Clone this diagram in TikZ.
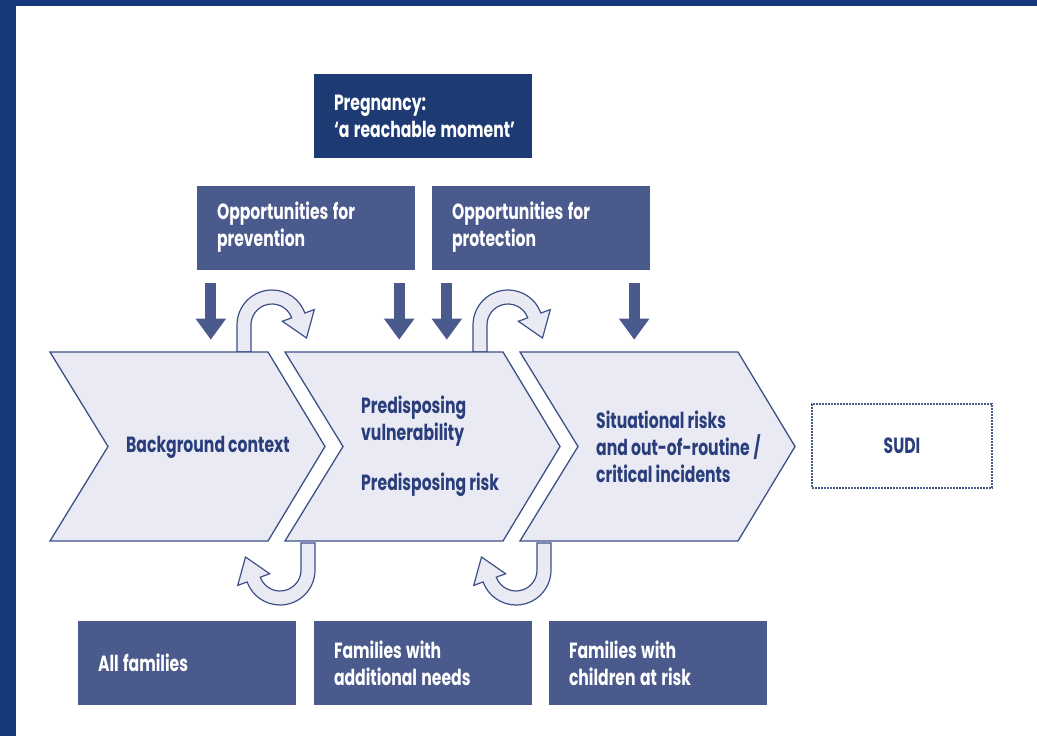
\documentclass[tikz,border=0pt]{standalone}
\usepackage{fontspec}
\setmainfont{Poppins}[FakeStretch=0.71, WordSpace=0.95]
\usetikzlibrary{arrows.meta,calc}

\definecolor{frameblue}{HTML}{143A7B}
\definecolor{navybox}{HTML}{1E3A73}
\definecolor{slatebox}{HTML}{4A5A8D}
\definecolor{chevfill}{HTML}{E9EAF4}
\definecolor{chevline}{HTML}{3D5187}
\definecolor{chevtext}{HTML}{2A3E7B}

\tikzset{
  looparrow/.pic={
    \path[looparr] (-35pt,-27pt) -- (-35pt,0pt) arc[start angle=180,end angle=20,radius=35pt]
      -- (20:45pt) -- (34.5pt,-13pt) -- (20:11pt) -- (20:21pt)
      arc[start angle=20,end angle=180,radius=21pt] -- (-21pt,-27pt) -- cycle;
  }
}

\begin{document}
\begin{tikzpicture}[x=1pt, y=-1pt,
    every node/.style={font=\fontsize{22}{27}\selectfont\bfseries},
    box/.style={fill=slatebox, text=white, align=left, text width=178pt, minimum width=218pt, minimum height=84pt, inner xsep=20pt, inner ysep=0pt,
      execute at begin node={\spaceskip=0.2em plus 0.05em\relax}},
    chevron/.style={fill=chevfill, draw=chevline, line width=1.3pt},
    chevlabel/.style={anchor=west, inner sep=0pt, text=chevtext, align=left},
    downarrow/.style={draw=slatebox, line width=11pt, -{Triangle[width=29pt,length=21pt]}},
    looparr/.style={fill=chevfill, draw=chevline, line width=1.2pt},
    sudibox/.style={draw=slatebox, line width=2pt, dash pattern=on 1.6pt off 1.4pt, text=chevtext, minimum width=180pt, minimum height=84pt}
  ]
  \useasboundingbox (0,0) rectangle (1037,736);
  \fill[white] (0,0) rectangle (1037,736);
  \fill[frameblue] (0,0) rectangle (16,736);
  \fill[frameblue] (0,0) rectangle (1037,6);

  \node[box, fill=navybox] (preg) at (423,116) {Pregnancy:\\\mbox{`a reachable moment'}};
  \node[box] (prev) at (306,227.5) {Opportunities for\\prevention};
  \node[box] (prot) at (541,227.5) {Opportunities for\\protection};

  \draw[downarrow] ($(prev.south west)+(14,13)$) -- ++(0,57);
  \draw[downarrow] ($(prev.south east)+(-16,13)$) -- ++(0,57);
  \draw[downarrow] ($(prot.south west)+(15,13)$) -- ++(0,57);
  \draw[downarrow] ($(prot.south east)+(-16,13)$) -- ++(0,57);

  \pic at (272,325) {looparrow};
  \pic at (508,325) {looparrow};
  \pic[rotate=180] at (280,570) {looparrow};
  \pic[rotate=180] at (516,570) {looparrow};

  \foreach \x in {50,285,520}
    \draw[chevron] (\x,352) -- ({\x+218},352) -- ({\x+275},446.5) -- ({\x+218},541) -- (\x,541) -- ({\x+58},446.5) -- cycle;

  \node[chevlabel] (bg) at (126,447) {Background context};
  \node[chevlabel] (predvul) at (361,421) {Predisposing\\vulnerability};
  \node[chevlabel] (predrisk) at (361,485) {Predisposing risk};
  \node[chevlabel] (situ) at (596,447) {Situational risks\\and out-of-routine\,/\\critical incidents};

  \node[sudibox] (sudi) at (902,446) {SUDI};

  \node[box] (allfam) at (187,663) {All families};
  \node[box] (addneeds) at (423,663) {Families with\\additional needs};
  \node[box] (atrisk) at (658,663) {Families with\\children at risk};
\end{tikzpicture}
\end{document}
